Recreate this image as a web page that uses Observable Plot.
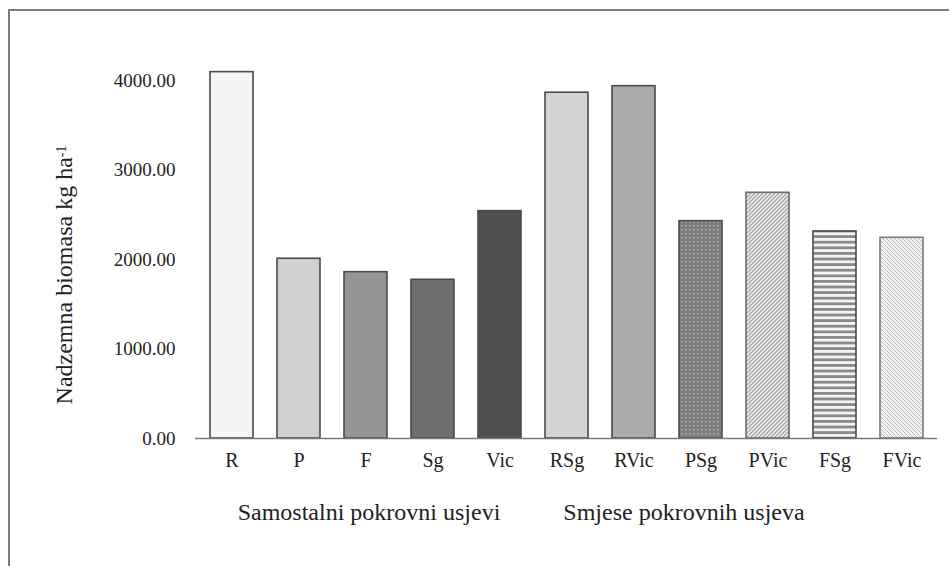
<!DOCTYPE html>
<html><head><meta charset="utf-8">
<script src="https://cdn.jsdelivr.net/npm/d3@7"></script>
<script src="https://cdn.jsdelivr.net/npm/@observablehq/plot@0.6"></script>
<style>
body{margin:0;background:#fff;}
#wrap{position:relative;width:949px;height:566px;overflow:hidden;}
#frame{position:absolute;left:8px;top:9px;right:-4px;bottom:-4px;border-top:2px solid #7c7c7c;border-left:2px solid #7c7c7c;pointer-events:none;}
</style></head><body><div id="wrap"><div id="frame"></div></div>
<script>
const categories = ["R","P","F","Sg","Vic","RSg","RVic","PSg","PVic","FSg","FVic"];
const values = [4093, 2008, 1858, 1773, 2540, 3863, 3936, 2428, 2745, 2313, 2242];
const yTicks = [0, 1000, 2000, 3000, 4000];
const groupLabels = ["Samostalni pokrovni usjevi", "Smjese pokrovnih usjeva"];
const yLabel = "Nadzemna biomasa kg ha";
const yLabelSup = "-1";

// styles (kept separate from data)
const barFill = {
  R: "#f4f4f4", P: "#d0d0d0", F: "#959595", Sg: "#6f6f6f", Vic: "#4f4f4f",
  RSg: "#d3d3d3", RVic: "#ababab", PSg: "url(#pDots)", PVic: "url(#pUp)",
  FSg: "url(#pHoriz)", FVic: "url(#pDown)"
};
const barStroke = {PVic: "#6a6a6a", FVic: "#7a7a7a"};
const barDash = {PVic: "2,1.5", FVic: "2,1.5"};
const serif = "Liberation Serif, Times New Roman, serif";

const data = categories.map((c, i) => ({cat: c, value: values[i]}));

const plot = Plot.plot({
  width: 949,
  height: 566,
  marginLeft: 195,
  marginRight: 12,
  marginTop: 71,
  marginBottom: 128,
  style: {fontFamily: serif, fontSize: "19px", color: "#222", background: "transparent"},
  x: {domain: categories, paddingInner: 0.36, paddingOuter: 0.18, label: null, tickSize: 0, tickPadding: 14},
  y: {domain: [0, 4100], ticks: yTicks, tickFormat: d3.format(".2f"), tickSize: 0, tickPadding: 20, label: null},
  marks: [
    Plot.barY(data, {
      x: "cat", y: "value",
      fill: d => barFill[d.cat],
      stroke: d => barStroke[d.cat] || "#4a4a4a",
      strokeWidth: 1.6,
      strokeDasharray: d => barDash[d.cat] || null
    }),
    Plot.ruleY([0], {stroke: "#7a7a7a", strokeWidth: 1.6}),
    Plot.axisX({tickSize: 0, tickPadding: 14, fontSize: 20, label: null}),
    Plot.axisY({ticks: yTicks, tickFormat: d3.format(".2f"), tickSize: 0, tickPadding: 20, fontSize: 19, label: null}),
    Plot.text([groupLabels[0]], {x: () => "F", y: () => 0, dy: 74, dx: 3, fontSize: 24, fill: "#222"}),
    Plot.text([groupLabels[1]], {x: () => "PSg", y: () => 0, dy: 74, dx: -17, fontSize: 24, fill: "#222"}),
    Plot.text([yLabel], {frameAnchor: "left", textAnchor: "middle", rotate: -90, dx: -131, dy: 20, fontSize: 24, fill: "#222", className: "ylab"})
  ]
});

const svg = d3.select(plot);
const defs = svg.insert("defs", ":first-child");
// dotted (PSg)
const p1 = defs.append("pattern").attr("id", "pDots").attr("patternUnits", "userSpaceOnUse").attr("width", 4).attr("height", 4);
p1.append("rect").attr("width", 4).attr("height", 4).attr("fill", "#7c7c7c");
p1.append("rect").attr("x", 1).attr("y", 1).attr("width", 1.6).attr("height", 1.6).attr("fill", "#b4b4b4");
// upward diagonal (PVic)
const p2 = defs.append("pattern").attr("id", "pUp").attr("patternUnits", "userSpaceOnUse").attr("width", 4).attr("height", 4);
p2.append("rect").attr("width", 4).attr("height", 4).attr("fill", "#ececec");
p2.append("path").attr("d", "M-1,1 L1,-1 M0,4 L4,0 M3,5 L5,3").attr("stroke", "#9a9a9a").attr("stroke-width", 1.1);
// horizontal stripes (FSg)
const p3 = defs.append("pattern").attr("id", "pHoriz").attr("patternUnits", "userSpaceOnUse").attr("width", 6).attr("height", 5.6);
p3.append("rect").attr("width", 6).attr("height", 5.6).attr("fill", "#f4f4f4");
p3.append("rect").attr("width", 6).attr("height", 2.8).attr("fill", "#8a8a8a");
// downward diagonal (FVic)
const p4 = defs.append("pattern").attr("id", "pDown").attr("patternUnits", "userSpaceOnUse").attr("width", 4).attr("height", 4);
p4.append("rect").attr("width", 4).attr("height", 4).attr("fill", "#f3f3f3");
p4.append("path").attr("d", "M-1,3 L1,5 M0,0 L4,4 M3,-1 L5,1").attr("stroke", "#b8b8b8").attr("stroke-width", 1);

// superscript on y label
svg.selectAll(".ylab text").each(function() {
  d3.select(this).append("tspan").attr("dy", "-0.45em").attr("font-size", "14px").text(yLabelSup);
});

document.getElementById("wrap").appendChild(plot);
</script>
</body></html>
